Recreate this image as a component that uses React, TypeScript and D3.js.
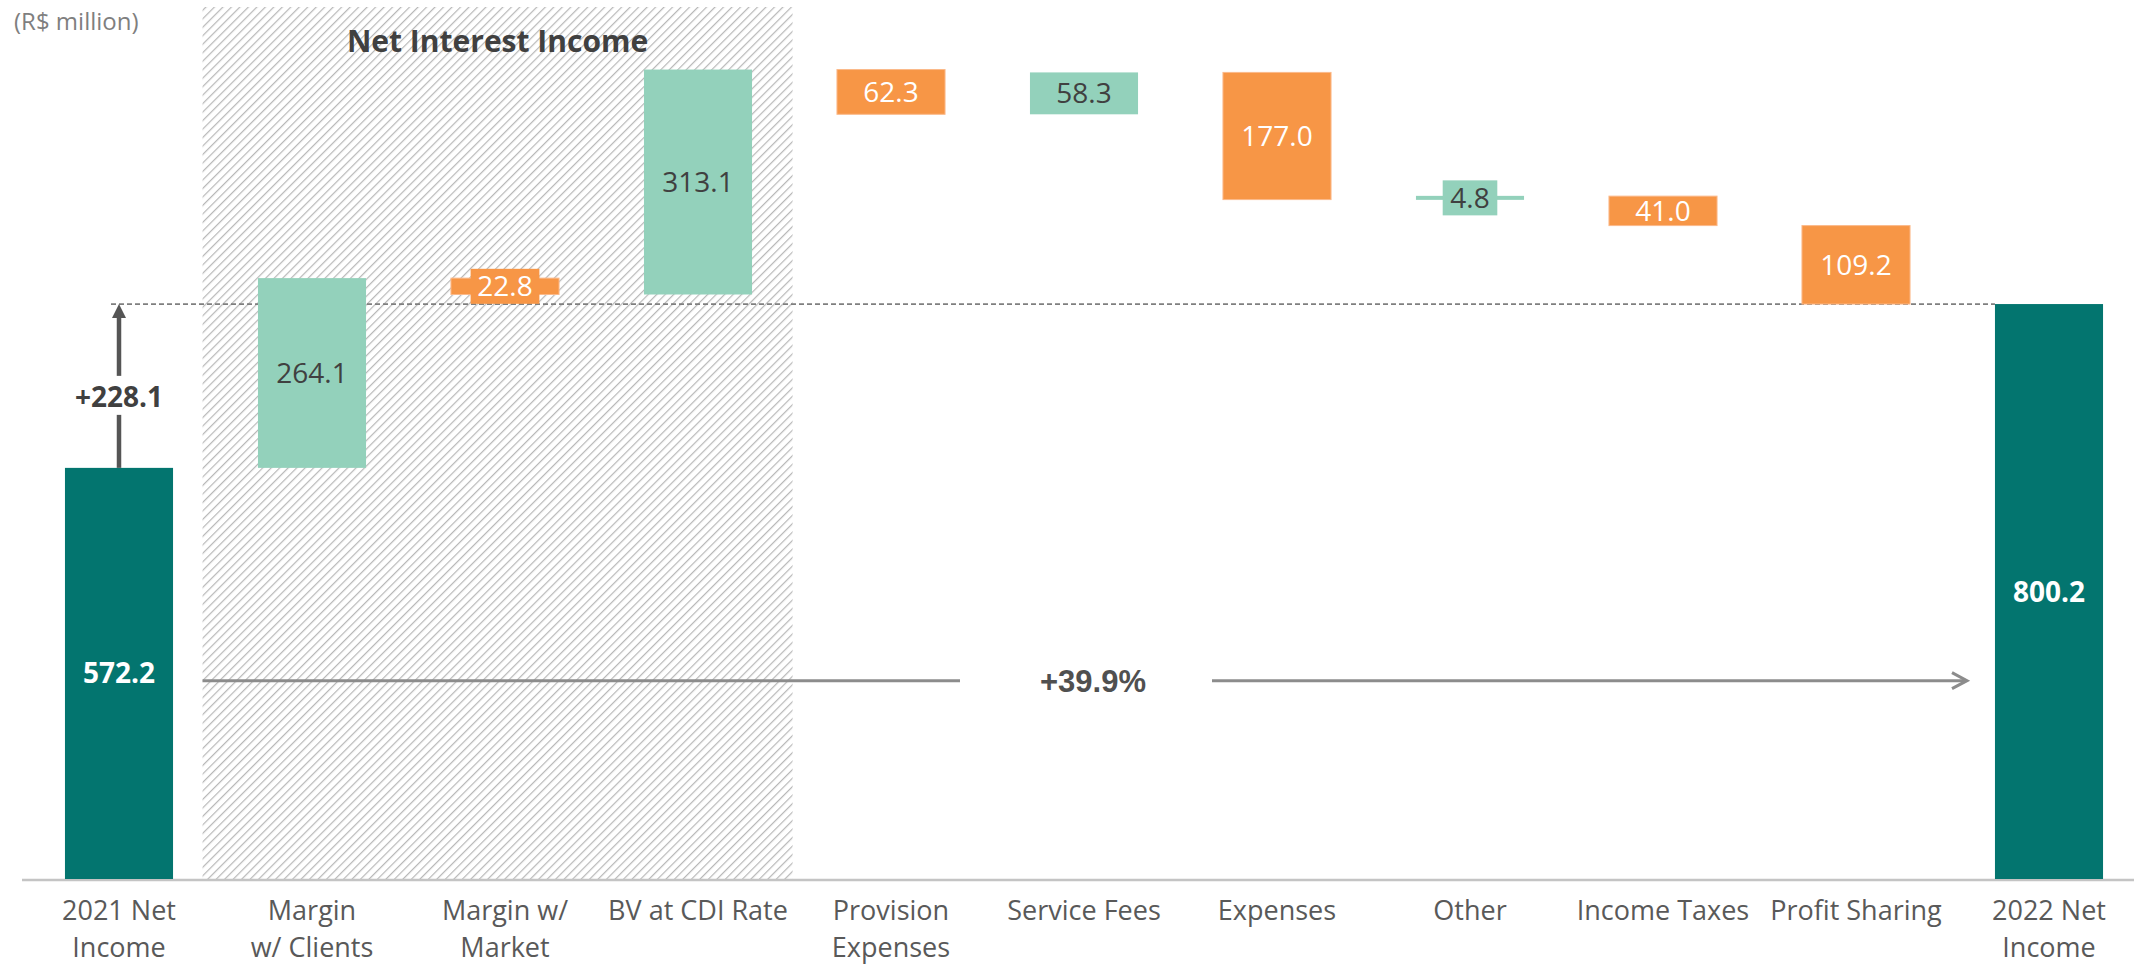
import React from "react";
import * as d3 from "d3";

// categories on the x axis (line breaks as in the source)
const categories = [
  "2021 Net Income",
  "Margin w/ Clients",
  "Margin w/ Market",
  "BV at CDI Rate",
  "Provision Expenses",
  "Service Fees",
  "Expenses",
  "Other",
  "Income Taxes",
  "Profit Sharing",
  "2022 Net Income",
];
const tickLines = [
  ["2021 Net", "Income"],
  ["Margin", "w/ Clients"],
  ["Margin w/", "Market"],
  ["BV at CDI Rate"],
  ["Provision", "Expenses"],
  ["Service Fees"],
  ["Expenses"],
  ["Other"],
  ["Income Taxes"],
  ["Profit Sharing"],
  ["2022 Net", "Income"],
];
// first and last are totals, the rest are changes
const values = [572.2, 264.1, -22.8, 313.1, -62.3, 58.3, -177.0, 4.8, -41.0, -109.2, 800.2];
const isTotal = [true, false, false, false, false, false, false, false, false, false, true];
// label drawn on a filled box (bars too thin for the text)
const boxedLabel = [false, false, true, false, false, false, false, true, false, false, false];

const growthLabel = "+228.1";
const pctLabel = "+39.9%";
const groupTitle = "Net Interest Income";
const unitLabel = "(R$ million)";

const W = 2134;
const H = 965;
const DARK = "#03756f";
const LIGHT = "#93d1bb";
const ORANGE = "#f79646";
const FONT = "'Open Sans', sans-serif";

export default function App() {
  const x = d3
    .scaleBand<string>()
    .domain(categories)
    .range([22.5, 2145.5])
    .paddingInner(0.44)
    .paddingOuter(0.22);
  const y = d3.scaleLinear().domain([0, 1200]).range([879, 879 - 1200 * 0.7185]);
  const bw = x.bandwidth();
  const step = x.step();

  // running totals for the waterfall
  let run = 0;
  const bars = categories.map((c, i) => {
    const v = values[i];
    let y0: number, y1: number;
    if (isTotal[i]) {
      y0 = 0;
      y1 = v;
      run = v;
    } else {
      y0 = run;
      y1 = run + v;
      run = y1;
    }
    const fill = isTotal[i] ? DARK : v >= 0 ? LIGHT : ORANGE;
    const textFill = isTotal[i] || v < 0 ? "#ffffff" : "#404040";
    return { c, i, v, y0, y1, fill, textFill };
  });

  const start = values[0];
  const end = values[values.length - 1];
  const cx0 = (x(categories[0]) ?? 0) + bw / 2;
  const xEndLeft = x(categories[categories.length - 1]) ?? 0;

  // hatched "Net Interest Income" area
  const hatchL = (x(categories[1]) ?? 0) + bw / 2 - 0.567 * step;
  const hatchR = (x(categories[3]) ?? 0) + bw / 2 + 0.49 * step;

  const arrowY = y(276);

  return (
    <svg
      width={W}
      height={H}
      style={{ position: "absolute", left: 0, top: 0, background: "#fff" }}
      fontFamily={FONT}
    >
      <defs>
        <pattern id="hatch" width="6" height="6" patternUnits="userSpaceOnUse" patternTransform="rotate(45)">
          <rect width="6" height="6" fill="#ffffff" />
          <line x1="0" y1="0" x2="0" y2="6" stroke="#b8b8b8" strokeWidth="2.4" />
        </pattern>
      </defs>

      <text x={14} y={30} fontSize={24} fill="#7f7f7f">{unitLabel}</text>

      <rect x={hatchL} y={7} width={hatchR - hatchL} height={y(0) - 7} fill="url(#hatch)" />
      <text x={(hatchL + hatchR) / 2} y={52} textAnchor="middle" fontSize={30} fontWeight={700} fill="#404040">
        {groupTitle}
      </text>

      {/* axis line */}
      <line x1={22} x2={W} y1={y(0) + 1} y2={y(0) + 1} stroke="#c4c4c4" strokeWidth={2.5} />

      {/* dashed reference at final value */}
      <line
        x1={cx0 - 8}
        x2={xEndLeft}
        y1={y(end)}
        y2={y(end)}
        stroke="#7f7f7f"
        strokeWidth={1.8}
        strokeDasharray="5 3"
      />

      {/* horizontal growth arrow */}
      <line x1={hatchL} x2={960} y1={arrowY} y2={arrowY} stroke="#8c8c8c" strokeWidth={3} />
      <line x1={1212} x2={1966} y1={arrowY} y2={arrowY} stroke="#8c8c8c" strokeWidth={3} />
      <path
        d={`M${1952},${arrowY - 8} L${1967},${arrowY} L${1952},${arrowY + 8}`}
        fill="none"
        stroke="#8c8c8c"
        strokeWidth={3}
      />
      <text
        x={1093}
        y={arrowY + 11}
        textAnchor="middle"
        fontSize={31}
        fontWeight={700}
        fill="#505050"
        fontFamily="'Liberation Sans', Arial, sans-serif"
      >
        {pctLabel}
      </text>

      {bars.map((b) => {
        const bx = x(b.c) ?? 0;
        const top = y(Math.max(b.y0, b.y1));
        const bot = y(Math.min(b.y0, b.y1));
        const h = Math.max(bot - top, 4);
        const cy = (top + bot) / 2;
        const cx = bx + bw / 2;
        const label = Math.abs(b.v).toFixed(1);
        const tw = label.length * 14.2;
        return (
          <g key={b.c}>
            <rect
              x={bx}
              y={bot - h === top ? top : cy - h / 2}
              width={bw}
              height={h}
              fill={b.fill}
              stroke={b.fill === ORANGE ? "#fbb98a" : "none"}
              strokeWidth={b.fill === ORANGE ? 1 : 0}
            />
            {boxedLabel[b.i] && (
              <rect x={cx - tw / 2 - 6} y={cy - 17.5} width={tw + 12} height={35} fill={b.fill} />
            )}
            <text
              x={cx}
              y={cy + 10}
              textAnchor="middle"
              fontSize={28}
              fontWeight={isTotal[b.i] ? 700 : 400}
              fill={b.textFill}
            >
              {label}
            </text>
          </g>
        );
      })}

      {/* vertical growth arrow from 2021 to 2022 level */}
      <line x1={cx0} x2={cx0} y1={y(start)} y2={y(start) - 53} stroke="#555555" strokeWidth={4.5} />
      <line x1={cx0} x2={cx0} y1={y(start) - 92} y2={y(end) + 12} stroke="#555555" strokeWidth={4.5} />
      <path
        d={`M${cx0 - 7},${y(end) + 14} L${cx0},${y(end)} L${cx0 + 7},${y(end) + 14} Z`}
        fill="#555555"
      />
      <text x={cx0} y={y(start) - 61} textAnchor="middle" fontSize={28} fontWeight={700} fill="#404040">
        {growthLabel}
      </text>

      {/* category labels */}
      {categories.map((c, i) => (
        <text key={c} x={(x(c) ?? 0) + bw / 2} y={920} textAnchor="middle" fontSize={27} fill="#595959">
          {tickLines[i].map((t, j) => (
            <tspan key={j} x={(x(c) ?? 0) + bw / 2} dy={j === 0 ? 0 : 37}>
              {t}
            </tspan>
          ))}
        </text>
      ))}
    </svg>
  );
}
